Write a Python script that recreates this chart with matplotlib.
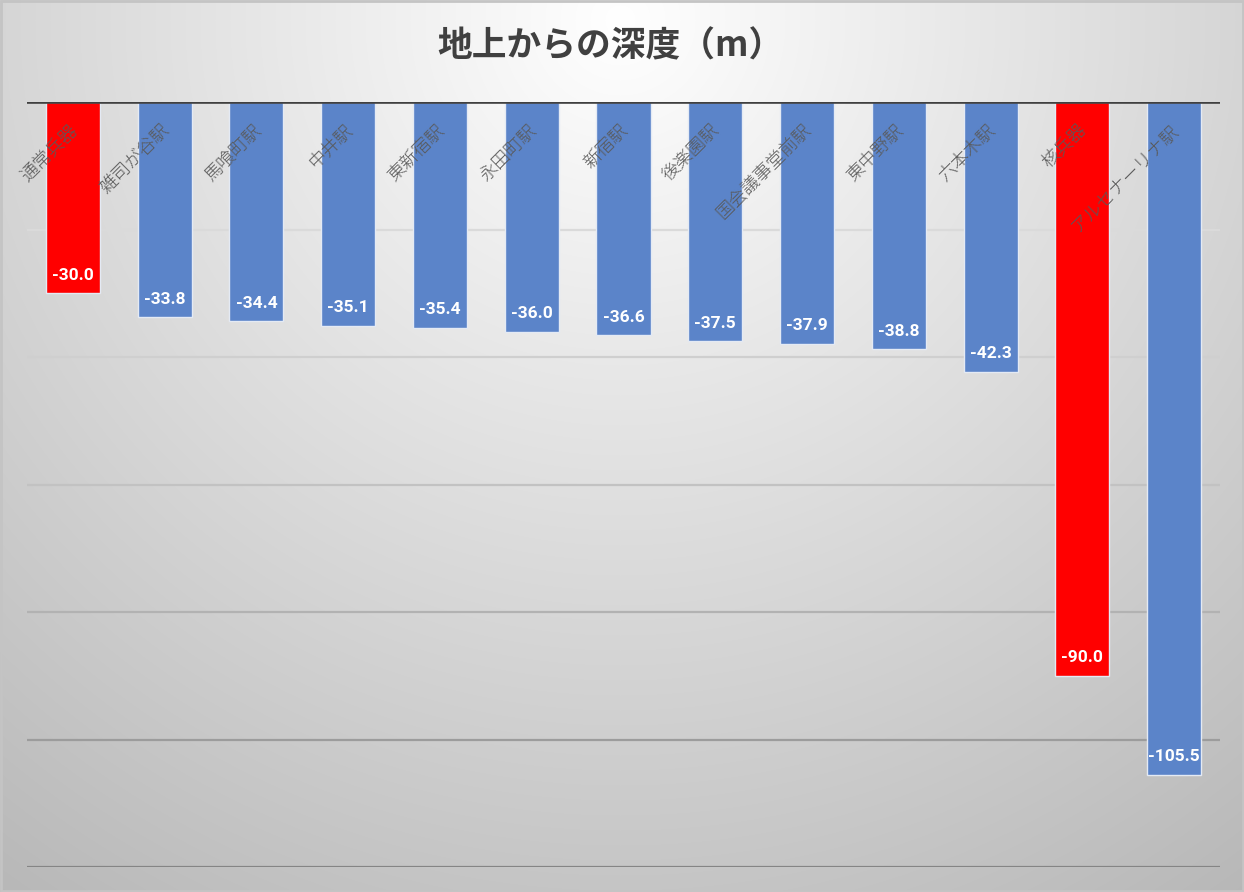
import numpy as np
import matplotlib
matplotlib.use("Agg")
import matplotlib.pyplot as plt
from matplotlib.patches import Rectangle

plt.rcParams['font.family'] = ['Noto Sans CJK JP', 'DejaVu Sans']

categories = ["通常兵器", "雑司が谷駅", "馬喰町駅", "中井駅", "東新宿駅", "永田町駅", "新宿駅",
              "後楽園駅", "国会議事堂前駅", "東中野駅", "六本木駅", "核兵器", "アルセナーリナ駅"]
depths = [-30.0, -33.8, -34.4, -35.1, -35.4, -36.0, -36.6, -37.5, -37.9, -38.8, -42.3, -90.0, -105.5]
is_weapon = [True, False, False, False, False, False, False, False, False, False, False, True, False]
title = "地上からの深度（m）"

W, H = 1244, 892
fig = plt.figure(figsize=(W / 100, H / 100), dpi=100)

# background radial gradient
bg = fig.add_axes([0, 0, 1, 1], zorder=-10)
yy, xx = np.mgrid[0:H, 0:W]
r = np.sqrt(((xx - 620) / 900.0) ** 2 + ((yy - 20) / 900.0) ** 2)
val = np.clip(255 - 60 * r, 0, 255) / 255.0
bg.imshow(np.dstack([val, val, val]), extent=[0, W, H, 0], aspect='auto', interpolation='bilinear')
bg.set_xlim(0, W)
bg.set_ylim(H, 0)
bg.axis('off')
bg.add_patch(Rectangle((1, 1), W - 2, H - 2, fill=False, edgecolor='#c4c4c4', linewidth=2))

ax = fig.add_axes([27 / W, 1 - 867 / H, (1220 - 27) / W, (867 - 102) / H])
ax.set_facecolor('none')
x = np.arange(len(categories))
colors = ['#ff0000' if w else '#5b84c9' for w in is_weapon]
bars = ax.bar(x, depths, width=0.59, color=colors, edgecolor='#e4eaf4', linewidth=1.0, zorder=3)

ax.set_xlim(-0.5, len(categories) - 0.5)
ax.set_ylim(-120, 0)

grid_colors = ['#dadada', '#cfcfcf', '#c2c2c2', '#b2b2b2', '#9c9c9c', '#858585']
for gv, gc in zip([-20, -40, -60, -80, -100, -120], grid_colors):
    ax.axhline(gv, color=gc, linewidth=1.6, zorder=1)
ax.axhline(0, color='#404040', linewidth=2.6, zorder=5)

for s in ax.spines.values():
    s.set_visible(False)
ax.set_xticks([])
ax.set_yticks([])

# value labels inside bar ends
for b, v in zip(bars, depths):
    ax.annotate(f"{v:.1f}", xy=(b.get_x() + b.get_width() / 2, v), xytext=(0, 13),
                textcoords='offset points', ha='center', va='center', color='white',
                fontsize=12.5, fontweight='bold',
                family=['Liberation Sans Narrow', 'Roboto', 'DejaVu Sans'], zorder=6)

# category labels, rotated, inside plot below zero line
for i, lab in enumerate(categories):
    ax.text(i + 0.02, -4.0, lab, rotation=45, rotation_mode='anchor', ha='right', va='center',
            fontsize=13, fontweight='light', color='#595959', zorder=7)

fig.text(610 / W, 1 - 46 / H, title, ha='center', va='center', fontsize=25,
         fontweight='bold', color='#404040')

fig.savefig('out.png', dpi=100)
